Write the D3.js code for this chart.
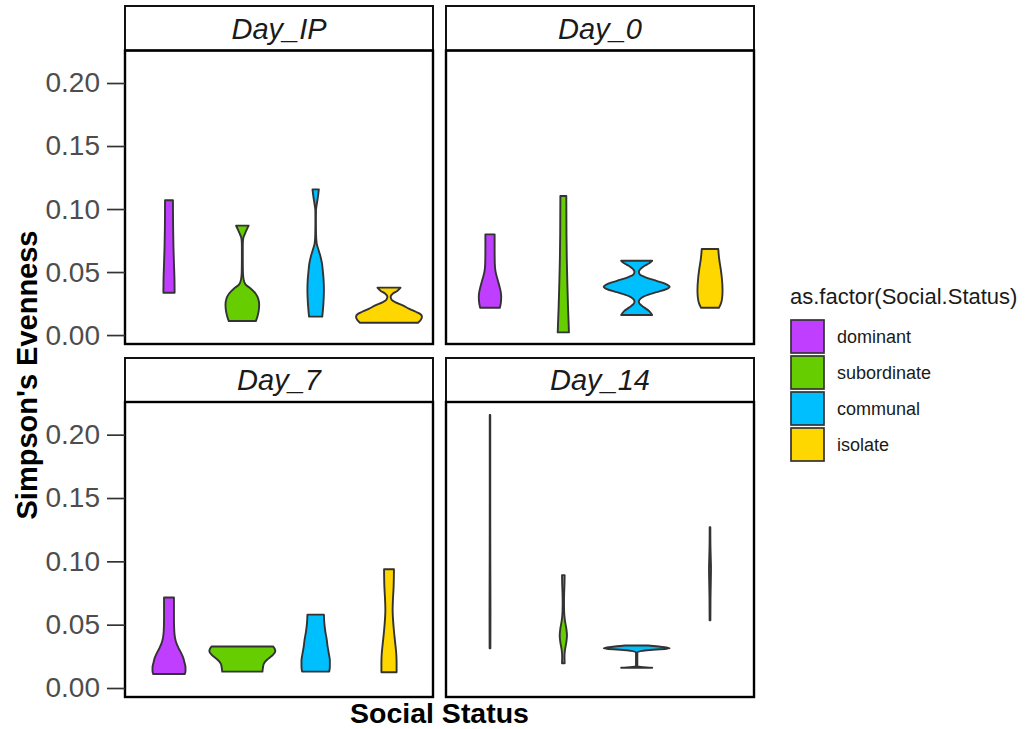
<!DOCTYPE html>
<html>
<head>
<meta charset="utf-8">
<script src="https://cdn.jsdelivr.net/npm/d3@7"></script>
<style>
  body { margin: 0; background: #fff; }
  text { font-family: "Liberation Sans", Arial, sans-serif; }
</style>
</head>
<body>
<svg id="chart" width="1031" height="729"></svg>
<script>
'use strict';

// facets and groups
const days = ["Day_IP", "Day_0", "Day_7", "Day_14"];
const statuses = ["dominant", "subordinate", "communal", "isolate"];
const statusColors = ["#BF3EFF", "#66CD00", "#00BFFF", "#FFD700"];
const yTicks = [0.00, 0.05, 0.10, 0.15, 0.20];
const yDomain = [-0.0071, 0.2258];

// violin outlines: [evenness, relative half width]
// one list per status, in the order of `statuses`
const violinsDayIP = [
  [[0.0336, 0.17], [0.045, 0.165], [0.057, 0.15], [0.07, 0.135], [0.085, 0.125], [0.107, 0.12]],
  [[0.0111, 0.41], [0.015, 0.46], [0.020, 0.50], [0.024, 0.51], [0.029, 0.48], [0.033, 0.40], [0.037, 0.25],
   [0.040, 0.10], [0.044, 0.04], [0.050, 0.018], [0.060, 0.014], [0.070, 0.014], [0.075, 0.02], [0.078, 0.04],
   [0.081, 0.09], [0.084, 0.14], [0.0868, 0.19]],
  [[0.0146, 0.20], [0.020, 0.22], [0.030, 0.245], [0.036, 0.25], [0.044, 0.24], [0.050, 0.22], [0.057, 0.19],
   [0.063, 0.14], [0.068, 0.08], [0.073, 0.03], [0.080, 0.012], [0.090, 0.008], [0.099, 0.01], [0.104, 0.035],
   [0.110, 0.07], [0.1156, 0.096]],
  [[0.0098, 0.88], [0.012, 0.96], [0.0146, 1.0], [0.017, 0.93], [0.0185, 0.81], [0.021, 0.60], [0.0238, 0.40],
   [0.026, 0.20], [0.028, 0.08], [0.0304, 0.05], [0.033, 0.12], [0.035, 0.25], [0.0376, 0.35]]
];

const violinsDay0 = [
  [[0.0217, 0.30], [0.026, 0.33], [0.0304, 0.34], [0.035, 0.32], [0.0383, 0.29], [0.045, 0.22], [0.050, 0.17],
   [0.057, 0.145], [0.068, 0.14], [0.0799, 0.14]],
  [[0.0021, 0.17], [0.010, 0.16], [0.020, 0.145], [0.038, 0.125], [0.060, 0.105], [0.080, 0.095], [0.1103, 0.09]],
  [[0.0159, 0.47], [0.019, 0.38], [0.022, 0.22], [0.0245, 0.10], [0.0265, 0.066], [0.0285, 0.10], [0.031, 0.25],
   [0.034, 0.60], [0.0365, 0.90], [0.0384, 1.0], [0.040, 0.92], [0.043, 0.60], [0.046, 0.25], [0.048, 0.10],
   [0.0503, 0.066], [0.052, 0.10], [0.055, 0.24], [0.057, 0.38], [0.059, 0.47]],
  [[0.0217, 0.27], [0.025, 0.33], [0.030, 0.37], [0.0357, 0.38], [0.045, 0.36], [0.0516, 0.33], [0.060, 0.28],
   [0.065, 0.26], [0.0683, 0.25]]
];

const violinsDay7 = [
  [[0.0111, 0.48], [0.0135, 0.50], [0.0164, 0.50], [0.020, 0.47], [0.024, 0.43], [0.027, 0.38], [0.031, 0.30],
   [0.035, 0.23], [0.040, 0.18], [0.045, 0.16], [0.055, 0.15], [0.0714, 0.15]],
  [[0.0129, 0.61], [0.017, 0.63], [0.019, 0.65], [0.021, 0.70], [0.023, 0.78], [0.026, 0.92], [0.029, 1.0],
   [0.031, 0.98], [0.0328, 0.93]],
  [[0.0129, 0.41], [0.017, 0.43], [0.0217, 0.43], [0.027, 0.40], [0.033, 0.36], [0.0375, 0.34], [0.045, 0.29],
   [0.052, 0.26], [0.0579, 0.25]],
  [[0.0124, 0.23], [0.020, 0.23], [0.027, 0.22], [0.035, 0.19], [0.045, 0.15], [0.055, 0.12], [0.0613, 0.11],
   [0.070, 0.12], [0.080, 0.14], [0.0937, 0.15]]
];

const violinsDay14 = [
  [[0.0314, 0.012], [0.060, 0.014], [0.100, 0.010], [0.150, 0.008], [0.2156, 0.008]],
  [[0.0195, 0.04], [0.025, 0.035], [0.030, 0.05], [0.036, 0.09], [0.0415, 0.11], [0.047, 0.09], [0.053, 0.05],
   [0.060, 0.025], [0.068, 0.02], [0.075, 0.025], [0.082, 0.035], [0.0891, 0.04]],
  [[0.0160, 0.47], [0.0165, 0.20], [0.0172, 0.02], [0.028, 0.02], [0.0298, 0.30], [0.031, 0.90], [0.0314, 1.0],
   [0.032, 0.90], [0.033, 0.60], [0.0336, 0.35]],
  [[0.0534, 0.012], [0.070, 0.015], [0.085, 0.025], [0.0944, 0.03], [0.105, 0.02], [0.115, 0.012], [0.127, 0.01]]
];

const violinsByDay = [violinsDayIP, violinsDay0, violinsDay7, violinsDay14];

// ---- layout
const svg = d3.select("#chart");
const panelLeft = [125, 446];
const panelWidth = 308;
const rows = [
  {stripTop: 6, stripBottom: 50.5, top: 50.5, bottom: 344},
  {stripTop: 358, stripBottom: 402, top: 402, bottom: 697}
];
const outline = "#333333";

// discrete x: positions 1..4 with 0.6 padding each side, violins 0.9 wide
let x = d3.scaleLinear().domain([0.4, statuses.length + 0.6]);

days.forEach(function (day, i) {
  let col = i % 2, row = rows[Math.floor(i / 2)];
  let left = panelLeft[col];
  x.range([left, left + panelWidth]);
  let halfWidth = x(1.45) - x(1);
  let y = d3.scaleLinear().domain(yDomain).range([row.bottom, row.top]);

  let g = svg.append("g").attr("class", "panel");

  // strip
  g.append("rect")
    .attr("x", left).attr("y", row.stripTop)
    .attr("width", panelWidth).attr("height", row.stripBottom - row.stripTop)
    .attr("fill", "#fff").attr("stroke", "#111").attr("stroke-width", 2);
  g.append("text")
    .attr("x", left + panelWidth / 2)
    .attr("y", (row.stripTop + row.stripBottom) / 2)
    .attr("dy", "0.36em")
    .attr("text-anchor", "middle")
    .style("font-size", "29px").style("font-style", "italic").attr("fill", "#1a1a1a")
    .text(day);

  // violins
  violinsByDay[i].forEach(function (profile, k) {
    let cx = x(k + 1);
    let area = d3.area()
      .curve(d3.curveMonotoneY)
      .y(function (d) { return y(d[0]); })
      .x0(function (d) { return cx - d[1] * halfWidth; })
      .x1(function (d) { return cx + d[1] * halfWidth; });
    g.append("path")
      .datum(profile)
      .attr("d", area)
      .attr("fill", statusColors[k])
      .attr("stroke", outline)
      .attr("stroke-width", 1.9)
      .attr("stroke-linejoin", "round");
  });

  // panel border
  g.append("rect")
    .attr("x", left).attr("y", row.top)
    .attr("width", panelWidth).attr("height", row.bottom - row.top)
    .attr("fill", "none").attr("stroke", "#000").attr("stroke-width", 2.4);

  // y axis on the left column only
  if (col === 0) {
    let axis = g.append("g")
      .attr("transform", "translate(" + left + ",0)")
      .call(d3.axisLeft(y).tickValues(yTicks).tickFormat(d3.format(".2f")).tickSize(18).tickPadding(7));
    axis.select(".domain").remove();
    axis.selectAll(".tick line").attr("stroke", outline).attr("stroke-width", 1.7);
    axis.selectAll(".tick text")
      .attr("fill", "#4d4d4d")
      .style("font-size", "28px")
      .style("font-family", "'Liberation Sans', Arial, sans-serif");
  }
});

// axis titles
svg.append("text")
  .attr("transform", "translate(37,375) rotate(-90)")
  .attr("text-anchor", "middle")
  .style("font-size", "29px").style("font-weight", "bold")
  .text("Simpson's Evenness");

svg.append("text")
  .attr("x", (panelLeft[0] + panelLeft[1] + panelWidth) / 2)
  .attr("y", 723)
  .attr("text-anchor", "middle")
  .style("font-size", "28.5px").style("font-weight", "bold")
  .text("Social Status");

// legend
const legend = svg.append("g").attr("transform", "translate(790,0)");
legend.append("text")
  .attr("x", 0).attr("y", 304)
  .style("font-size", "22px").attr("fill", "#1a1a1a")
  .text("as.factor(Social.Status)");

statuses.forEach(function (s, k) {
  let top = 320 + k * 36;
  legend.append("rect")
    .attr("x", 1).attr("y", top)
    .attr("width", 33).attr("height", 33)
    .attr("fill", statusColors[k])
    .attr("stroke", outline).attr("stroke-width", 1.7);
  legend.append("text")
    .attr("x", 47).attr("y", top + 17)
    .attr("dy", "0.35em")
    .style("font-size", "18px").attr("fill", "#1a1a1a")
    .text(s);
});
</script>
</body>
</html>
